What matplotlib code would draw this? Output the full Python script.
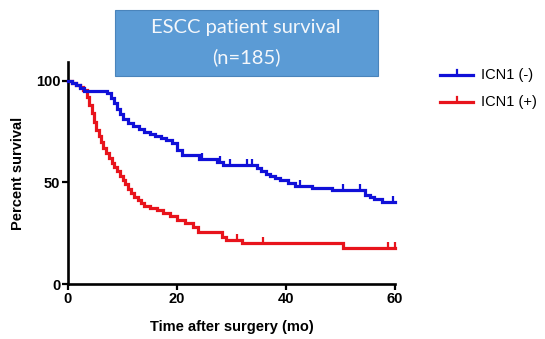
import numpy as np
import matplotlib
matplotlib.use("Agg")
import matplotlib.pyplot as plt
from matplotlib.patches import Rectangle
from matplotlib.lines import Line2D

# ---- data ----
blue_label = "ICN1 (-)"
red_label = "ICN1 (+)"

blue_t = [0, 0.8, 1.5, 2.2, 3.0, 7.1, 7.8, 8.4, 9.0, 9.5, 10.0, 11.0, 12.0, 13.0,
          14.0, 15.0, 16.0, 17.0, 18.0, 19.0, 20.0, 21.0, 24.0, 27.3, 28.4, 34.7,
          35.5, 36.3, 37.1, 38.0, 38.9, 40.4, 41.6, 44.8, 48.4, 54.5, 55.4, 56.2,
          57.6, 60.0]
blue_s = [100, 99, 98, 96.5, 95, 94, 91.5, 89, 86, 83.5, 81, 79.5, 78, 76.5,
          75, 74, 73, 72, 71, 69.5, 66, 63.5, 61.6, 60, 58.6, 57,
          55.5, 54, 53, 52, 51, 49.7, 48.3, 47.2, 46.3, 43.8, 42.8, 42,
          40.4, 40.4]
blue_censor = [24.6, 27.9, 29.7, 32.8, 33.8, 42.6, 50.5, 53.6, 59.6]

red_t = [0, 0.8, 1.5, 2.2, 2.8, 3.4, 3.9, 4.4, 4.8, 5.2, 5.6, 6.0, 6.5, 7.0,
         7.5, 8.0, 8.5, 9.0, 9.5, 10.0, 10.5, 11.0, 11.6, 12.2, 12.8, 13.4,
         14.0, 15.0, 16.3, 17.5, 18.7, 20.0, 21.5, 23.0, 23.8, 28.3, 29.0,
         32.0, 50.5, 60.0]
red_s = [100, 99, 98, 97, 95.5, 92, 88, 84, 80, 76, 73, 70, 67, 64.5,
         62, 59.5, 57.5, 55.5, 53, 51, 49, 47, 45, 43, 41.5, 40,
         38.5, 37.5, 36.5, 35, 33.5, 31.5, 30, 28, 25.6, 23, 21.5,
         20, 17.7, 17.7]
red_censor = [31.0, 35.8, 58.7, 60.0]

x_ticks = [0, 20, 40, 60]
y_ticks = [0, 50, 100]
title_lines = ["ESCC patient survival", "(n=185)"]
x_label = "Time after surgery (mo)"
y_label = "Percent survival"

BLUE = "#1010d8"
RED = "#e8141c"

plt.rcParams['font.family'] = ['Liberation Sans', 'DejaVu Sans']

fig = plt.figure(figsize=(5.45, 3.39), dpi=100)
ax = fig.add_axes([68/545, 55/339, 327/545, 222/339])

def surv_at(ts, ss, x):
    i = np.searchsorted(ts, x, side='right') - 1
    return ss[max(i, 0)]

for ts, ss, cens, col, z in [(red_t, red_s, red_censor, RED, 2),
                              (blue_t, blue_s, blue_censor, BLUE, 3)]:
    ax.step(ts, ss, where='post', color=col, lw=2.3, zorder=z, clip_on=False,
            solid_joinstyle='miter')
    cy = [surv_at(ts, ss, c) for c in cens]
    ax.plot(cens, cy, linestyle='none', marker=2, markersize=4.5, mew=1.6,
            color=col, zorder=z, clip_on=False)

ax.set_xlim(0, 60)
ax.set_ylim(0, 109.3)
ax.set_xticks(x_ticks)
ax.set_yticks(y_ticks)
for sp in ['top', 'right']:
    ax.spines[sp].set_visible(False)
for sp in ['left', 'bottom']:
    ax.spines[sp].set_linewidth(1.9)
ax.tick_params(axis='both', direction='out', length=4, width=1.6,
               labelsize=10.5, pad=1.5)
for lab in ax.get_xticklabels() + ax.get_yticklabels():
    lab.set_fontweight('bold')
ax.set_xlabel(x_label, fontsize=10.5, fontweight='bold', labelpad=10)
ax.set_ylabel(y_label, fontsize=10.5, fontweight='bold', labelpad=8)

# title box
fig.patches.append(Rectangle((115/545, 1-76/339), 263/545, 66/339,
                             transform=fig.transFigure, facecolor='#5b9bd5',
                             edgecolor='#4a84bb', lw=0.8, zorder=0))
fig.text(246/545, 1-28/339, title_lines[0], ha='center', va='center',
         color='#f4f7fb', fontsize=14.5, family=['Lato', 'DejaVu Sans'])
fig.text(246/545, 1-57/339, title_lines[1], ha='center', va='center',
         color='#f4f7fb', fontsize=14.5, family=['Lato', 'DejaVu Sans'])

# legend (manual)
for yy, col, lab in [(75, BLUE, blue_label), (102, RED, red_label)]:
    yf = 1 - yy/339
    fig.add_artist(Line2D([440/545, 473/545], [yf, yf], color=col, lw=2.3,
                          transform=fig.transFigure))
    fig.add_artist(Line2D([456.5/545, 456.5/545], [yf, yf + 5/339], color=col,
                          lw=1.6, transform=fig.transFigure))
    fig.text(481/545, yf, lab, ha='left', va='center', fontsize=10.5)

fig.savefig("out.png", dpi=100)
